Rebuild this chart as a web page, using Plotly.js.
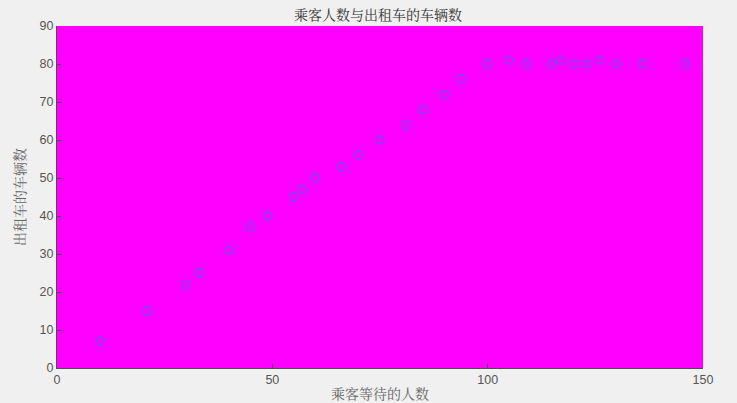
<!DOCTYPE html>
<html>
<head>
<meta charset="utf-8">
<script src="https://cdn.plot.ly/plotly-3.0.1.min.js"></script>
<style>html,body{margin:0;padding:0;background:#f0f0f0;}#chart{width:737px;height:403px;}</style>
</head>
<body>
<div id="chart"></div>
<script>
const passengers = [10, 21, 30, 33, 40, 45, 49, 55, 57, 60, 66, 70, 75, 81, 85, 90, 94, 100, 105, 109, 115, 117, 120, 123, 126, 130, 136, 146];
const taxis = [7, 15, 22, 25, 31, 37, 40, 45, 47, 50, 53, 56, 60, 64, 68, 72, 76, 80, 81, 80, 80, 81, 80, 80, 81, 80, 80, 80];
const xTicks = [0, 50, 100, 150];
const yTicks = [0, 10, 20, 30, 40, 50, 60, 70, 80, 90];
const titleText = '乘客人数与出租车的车辆数';
const xTitle = '乘客等待的人数';
const yTitle = '出租车的车辆数';

const cjk = '"Noto Serif CJK SC", "Noto Sans CJK SC", serif';
const trace = {
  x: passengers, y: taxis, type: 'scatter', mode: 'markers',
  marker: {symbol: 'circle-open', size: 8, color: '#6a4cf0', line: {width: 1.3, color: '#6a4cf0'}},
  hoverinfo: 'x+y'
};
const layout = {
  width: 737, height: 403,
  paper_bgcolor: '#f0f0f0', plot_bgcolor: '#ff00ff',
  margin: {l: 57, r: 34, t: 26, b: 35},
  showlegend: false,
  title: {text: titleText, xref: 'paper', x: 0.497, xanchor: 'center', y: 0.962, yanchor: 'middle',
          font: {family: cjk, size: 14, color: '#333333'}},
  xaxis: {range: [0, 150], tickvals: xTicks, ticktext: xTicks.map(String),
          ticks: 'inside', ticklen: 4, tickcolor: '#4d4d4d', showgrid: false, zeroline: false,
          showline: true, linecolor: '#4d4d4d', linewidth: 1, mirror: false,
          tickfont: {family: 'Liberation Sans, Arial, sans-serif', size: 12.5, color: '#555555'},
          title: {text: xTitle, standoff: 6, font: {family: cjk, size: 14, color: '#666666'}}},
  yaxis: {range: [0, 90], tickvals: yTicks, ticktext: yTicks.map(String),
          ticks: 'inside', ticklen: 4, tickcolor: '#4d4d4d', showgrid: false, zeroline: false,
          showline: true, linecolor: '#4d4d4d', linewidth: 1, mirror: false,
          tickfont: {family: 'Liberation Sans, Arial, sans-serif', size: 12.5, color: '#555555'},
          title: {text: yTitle, standoff: 10, font: {family: cjk, size: 14, color: '#666666'}}}
};
Plotly.newPlot('chart', [trace], layout, {displayModeBar: false, staticPlot: true});
</script>
</body>
</html>
